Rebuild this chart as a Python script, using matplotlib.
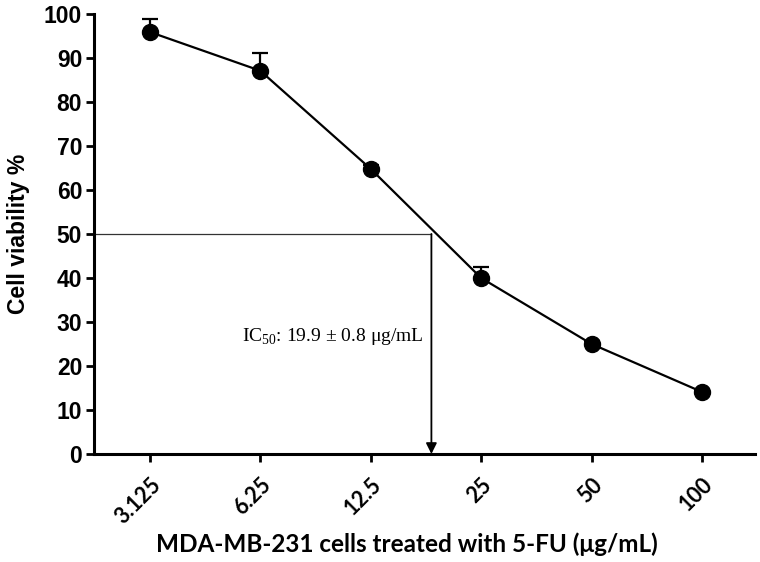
import numpy as np
import matplotlib
matplotlib.use("Agg")
import matplotlib.pyplot as plt

# dati
conc_labels = ["3.125", "6.25", "12.5", "25", "50", "100"]
viability = [95.9, 87.1, 64.8, 40.0, 25.0, 14.1]
sd_upper = [2.9, 4.1, 0.8, 2.5, 0.6, 0.5]
ic50_pos = 2.55       # posizione sull'asse delle categorie
ic50_level = 50
ic50_text = "IC$_{\\mathrm{50}}$: 19.9 ± 0.8 μg/mL"

plt.rcParams["mathtext.fontset"] = "custom"
plt.rcParams["mathtext.rm"] = "Liberation Serif"

fig = plt.figure(figsize=(7.6, 5.62), dpi=100)
ax = fig.add_axes([0.1237, 0.1922, 0.8697, 0.783])

x = np.arange(len(conc_labels))
ax.errorbar(x, viability, yerr=[np.zeros(len(sd_upper)), sd_upper],
            fmt="o-", color="black", lw=1.6, ms=11.5, elinewidth=1.6,
            capsize=6, capthick=1.6, zorder=3)

# linea IC50
ax.plot([-0.6, ic50_pos], [ic50_level, ic50_level], color="#333333", lw=0.9, zorder=2)
ax.annotate("", xy=(ic50_pos, 0), xytext=(ic50_pos, ic50_level),
            arrowprops=dict(arrowstyle="-|>", color="black", lw=1.3,
                            mutation_scale=16, shrinkA=0, shrinkB=0))
ax.text(0.835, 26.6, ic50_text, fontsize=14, family="Liberation Serif",
        va="center", ha="left")

ax.set_xlim(-0.505, 5.48)
ax.set_ylim(0, 100)
ax.set_yticks(np.arange(0, 101, 10))
ax.set_xticks(x)
ax.set_xticklabels(conc_labels, rotation=45, ha="right", rotation_mode="anchor",
                   fontsize=15.5, fontweight="bold", family="Lato")
for lab in ax.get_yticklabels():
    lab.set_fontsize(16.5)
    lab.set_fontweight("bold")
    lab.set_family("Liberation Sans")

ax.spines["top"].set_visible(False)
ax.spines["right"].set_visible(False)
for s in ["left", "bottom"]:
    ax.spines[s].set_linewidth(2.2)
ax.tick_params(width=2.0, length=5.5)
ax.tick_params(axis="x", pad=9)
ax.tick_params(axis="y", pad=3)

ax.set_ylabel("Cell viability %", fontsize=16.5, fontweight="bold",
              family="Liberation Sans", labelpad=10)
# etichetta x posizionata a mano (come nell'originale)
fig.text(407 / 760, 1 - 544 / 562, "MDA-MB-231 cells treated with 5-FU (μg/mL)",
         fontsize=17.5, fontweight="bold", family="Lato", ha="center", va="center")

fig.savefig("out.png", dpi=100)
